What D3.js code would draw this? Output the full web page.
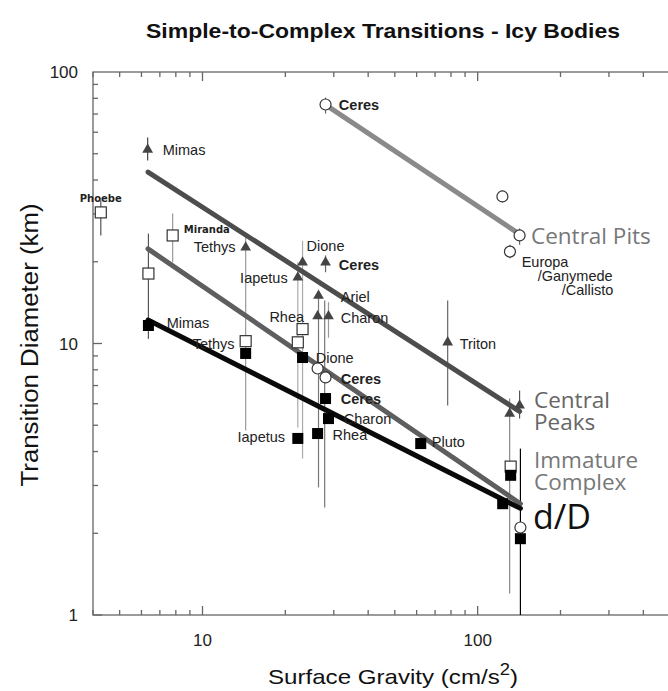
<!DOCTYPE html>
<html>
<head>
<meta charset="utf-8">
<script src="https://cdn.jsdelivr.net/npm/d3@7"></script>
<style>
  body { margin: 0; background: #fff; }
  svg { display: block; }
</style>
</head>
<body>
<div id="chart"></div>
<script>
// Central pits (open circles)
const pitGravity = [28.0, 123, 142, 131];
const pitDiameter = [75.9, 34.8, 25.0, 21.8];

// Central peaks (filled triangles)
const peakBodies = ["Mimas", "Tethys", "Iapetus", "Dione", "Ceres", "Ariel", "Rhea", "Charon", "Triton", "", ""];
const peakGravity = [6.32, 14.35, 22.2, 23.1, 28.0, 26.4, 26.2, 28.7, 77.8, 130.7, 142];
const peakDiameter = [51.8, 22.6, 17.5, 19.9, 19.9, 15.0, 12.6, 12.6, 10.1, 5.52, 5.91];

// Immature complex (open squares) and open circles on that trend
const immBodies = ["Phoebe", "Miranda", "Mimas", "Tethys", "Rhea", "Dione", ""];
const immGravity = [4.27, 7.79, 6.36, 14.35, 23.1, 22.2, 131.8];
const immDiameter = [30.4, 25.0, 18.1, 10.2, 11.3, 10.1, 3.52];
const immCircleGravity = [26.2, 28.0, 143];
const immCircleDiameter = [8.09, 7.5, 2.10];

// d/D (filled squares)
const ddBodies = ["Mimas", "Tethys", "Iapetus", "Rhea", "Dione", "Ceres", "Charon", "Pluto", "", "", ""];
const ddGravity = [6.36, 14.35, 22.2, 26.2, 23.1, 28.0, 28.7, 62.1, 123.3, 131.8, 143];
const ddDiameter = [11.65, 9.19, 4.47, 4.66, 8.88, 6.27, 5.29, 4.28, 2.57, 3.27, 1.91];

// error bars: gravity, low, high, shade
const errGravity = [6.32, 4.27, 7.79, 6.36, 14.35, 22.2, 23.1, 28.0, 26.4, 27.8, 28.7, 77.8, 130.7, 142, 143, 28.0, 123, 142, 131];
const errLow =     [47.2, 25.0, 19.9, 10.4, 4.78, 4.90, 3.77, 18.3, 2.95, 2.49, 10.5, 5.91, 1.2, 5.29, 1.0, 70.3, 33.1, 23.1, 20.6];
const errHigh =    [57.4, 33.6, 30.1, 25.4, 25.6, 19.9, 23.9, 21.1, 15.3, 14.4, 14.2, 14.4, 6.27, 6.71, 4.1, 80.5, 36.6, 26.5, 23.1];
const errShade =   ["#444", "#555", "#999", "#555", "#999", "#aaa", "#aaa", "#666", "#777", "#777", "#999", "#666", "#888", "#555", "#000", "#666", "#666", "#666", "#666"];

// fitted trend lines: [start gravity, start D, end gravity, end D]
const pitFit = [28.2, 75.3, 141, 25.4];
const peakFit = [6.34, 42.8, 142, 5.62];
const immFit = [6.34, 22.3, 143, 2.57];
const ddFit = [6.34, 12.2, 143, 2.47];

// point labels: text, gravity, diameter (left edge, middle)
const labelText = ["Ceres", "Mimas", "Phoebe", "Miranda", "Tethys", "Dione", "Ceres", "Iapetus", "Ariel", "Rhea", "Charon", "Triton",
  "Mimas", "Tethys", "Dione", "Ceres", "Ceres", "Charon", "Iapetus", "Rhea", "Pluto", "Europa", "/Ganymede", "/Callisto"];
const labelGravity = [31.3, 7.17, 3.58, 8.55, 9.29, 23.9, 31.3, 13.7, 31.8, 17.5, 31.8, 86.0,
  7.41, 9.21, 25.8, 31.8, 31.8, 32.6, 13.4, 29.7, 68.1, 144.5, 165.2, 202];
const labelDiameter = [75.9, 51.4, 34.2, 26.3, 22.6, 22.8, 19.4, 17.5, 14.8, 12.5, 12.4, 10.0,
  11.9, 10.0, 8.88, 7.43, 6.27, 5.29, 4.51, 4.62, 4.32, 20.0, 17.7, 15.7];
const labelStyle = ["bold", "", "small", "small", "", "", "bold", "", "", "", "", "",
  "", "", "", "bold", "bold", "", "", "", "", "", "", ""];

const xTicks = [10, 100];
const yTicks = [1, 10, 100];

const width = 668, height = 691;
const plotLeft = 93, plotRight = 670, plotTop = 72, plotBottom = 615;

const svg = d3.select("#chart").append("svg")
  .attr("width", width).attr("height", height);

const x = d3.scaleLog().domain([4, 500]).range([plotLeft, plotRight]);
const y = d3.scaleLog().domain([1, 100]).range([plotBottom, plotTop]);

const sansFont = "Liberation Sans, Arial, sans-serif";

// title
svg.append("text")
  .attr("x", 146).attr("y", 38)
  .attr("textLength", 474).attr("lengthAdjust", "spacingAndGlyphs")
  .attr("font-family", sansFont)
  .attr("font-weight", "bold").attr("font-size", 21)
  .attr("fill", "#111")
  .text("Simple-to-Complex Transitions - Icy Bodies");

// frame
const frame = svg.append("g").attr("stroke", "#666").attr("stroke-width", 1.3).attr("fill", "none");
frame.append("rect").attr("x", plotLeft).attr("y", plotTop)
  .attr("width", plotRight - plotLeft).attr("height", plotBottom - plotTop);

// minor + major ticks
const xMinor = [];
for (let d = 1; d <= 100; d *= 10) for (let k = 1; k < 10; k++) { const v = d * k; if (v >= 4 && v <= 500) xMinor.push(v); }
const yMinor = [];
for (let d = 1; d <= 10; d *= 10) for (let k = 1; k < 10; k++) yMinor.push(d * k);

const isMajor = v => Math.abs(Math.log10(v) - Math.round(Math.log10(v))) < 1e-9;

frame.selectAll(".xb").data(xMinor).join("line")
  .attr("x1", d => x(d)).attr("x2", d => x(d))
  .attr("y1", plotBottom).attr("y2", d => plotBottom - (isMajor(d) ? 9 : 5));
frame.selectAll(".xt").data(xMinor).join("line")
  .attr("x1", d => x(d)).attr("x2", d => x(d))
  .attr("y1", plotTop).attr("y2", d => plotTop + (isMajor(d) ? 9 : 5));
frame.selectAll(".yl").data(yMinor).join("line")
  .attr("y1", d => y(d)).attr("y2", d => y(d))
  .attr("x1", plotLeft).attr("x2", d => plotLeft + (isMajor(d) ? 9 : 5));

svg.selectAll(".xlab").data(xTicks).join("text")
  .attr("x", d => x(d)).attr("y", 646)
  .attr("text-anchor", "middle").attr("font-family", sansFont).attr("font-size", 17).attr("fill", "#222")
  .text(d => d);
svg.selectAll(".ylab").data(yTicks).join("text")
  .attr("x", 78).attr("y", d => y(d) + 6)
  .attr("text-anchor", "end").attr("font-family", sansFont).attr("font-size", 17).attr("fill", "#222")
  .text(d => d);

// axis titles
const xt = svg.append("text")
  .attr("x", 268).attr("y", 684)
  .attr("textLength", 250).attr("lengthAdjust", "spacingAndGlyphs")
  .attr("font-family", sansFont).attr("font-size", 21).attr("fill", "#111");
xt.append("tspan").text("Surface Gravity (cm/s");
xt.append("tspan").attr("dy", -9).attr("font-size", 16).text("2");
xt.append("tspan").attr("dy", 9).text(")");

svg.append("text")
  .attr("transform", "translate(38,345) rotate(-90)")
  .attr("text-anchor", "middle").attr("font-family", sansFont).attr("font-size", 23).attr("fill", "#111")
  .attr("textLength", 283).attr("lengthAdjust", "spacingAndGlyphs")
  .text("Transition Diameter (km)");

// error bars
svg.append("g").selectAll("line").data(errGravity).join("line")
  .attr("x1", d => x(d)).attr("x2", d => x(d))
  .attr("y1", (d, i) => y(errLow[i])).attr("y2", (d, i) => y(errHigh[i]))
  .attr("stroke", (d, i) => errShade[i]).attr("stroke-width", 1.2);

// trend lines
const fits = [[pitFit, "#8a8a8a"], [peakFit, "#4d4d4d"], [immFit, "#5e5e5e"], [ddFit, "#0a0a0a"]];
svg.append("g").selectAll("line").data(fits).join("line")
  .attr("x1", d => x(d[0][0])).attr("y1", d => y(d[0][1]))
  .attr("x2", d => x(d[0][2])).attr("y2", d => y(d[0][3]))
  .attr("stroke", d => d[1]).attr("stroke-width", 5).attr("stroke-linecap", "round");

// markers
const tri = d3.symbol().type(d3.symbolTriangle).size(50);
svg.append("g").selectAll("path").data(peakGravity).join("path")
  .attr("d", tri)
  .attr("transform", (d, i) => `translate(${x(d)},${y(peakDiameter[i])})`)
  .attr("fill", "#444");

svg.append("g").selectAll("rect").data(immGravity).join("rect")
  .attr("x", d => x(d) - 5.5).attr("y", (d, i) => y(immDiameter[i]) - 5.5)
  .attr("width", 11).attr("height", 11)
  .attr("fill", "#fff").attr("stroke", "#333").attr("stroke-width", 1.2);

svg.append("g").selectAll("rect").data(ddGravity).join("rect")
  .attr("x", d => x(d) - 5.5).attr("y", (d, i) => y(ddDiameter[i]) - 5.5)
  .attr("width", 11).attr("height", 11)
  .attr("fill", "#000");

const circles = pitGravity.map((g, i) => [g, pitDiameter[i]])
  .concat(immCircleGravity.map((g, i) => [g, immCircleDiameter[i]]));
svg.append("g").selectAll("circle").data(circles).join("circle")
  .attr("cx", d => x(d[0])).attr("cy", d => y(d[1])).attr("r", 5.5)
  .attr("fill", "#fff").attr("stroke", "#333").attr("stroke-width", 1.2);

// point labels
svg.append("g").selectAll("text").data(labelText).join("text")
  .attr("x", (d, i) => x(labelGravity[i])).attr("y", (d, i) => y(labelDiameter[i]))
  .attr("dominant-baseline", "central")
  .attr("font-family", (d, i) => labelStyle[i] === "small" ? "DejaVu Sans, Verdana, sans-serif" : sansFont)
  .attr("font-size", (d, i) => labelStyle[i] === "small" ? 10 : 14.5)
  .attr("font-weight", (d, i) => labelStyle[i] ? "bold" : "normal")
  .attr("fill", "#222")
  .text(d => d);

// series labels (tight line spacing as in the figure)
const seriesFont = "Open Sans, DejaVu Sans, sans-serif";
const seriesNames = ["Central Pits", "Central", "Peaks", "Immature", "Complex"];
const seriesTop = [244, 408, 430, 468, 490];
const seriesShade = ["#777", "#666", "#666", "#777", "#777"];
svg.append("g").attr("font-family", seriesFont).attr("font-size", 22.5)
  .selectAll("text").data(seriesNames).join("text")
  .attr("x", (d, i) => i === 0 ? 531 : 534).attr("y", (d, i) => seriesTop[i])
  .attr("fill", (d, i) => seriesShade[i])
  .text(d => d);
svg.append("text").attr("x", 533).attr("y", 529)
  .attr("font-family", seriesFont).attr("font-size", 34).attr("fill", "#111").text("d/D");
</script>
</body>
</html>
